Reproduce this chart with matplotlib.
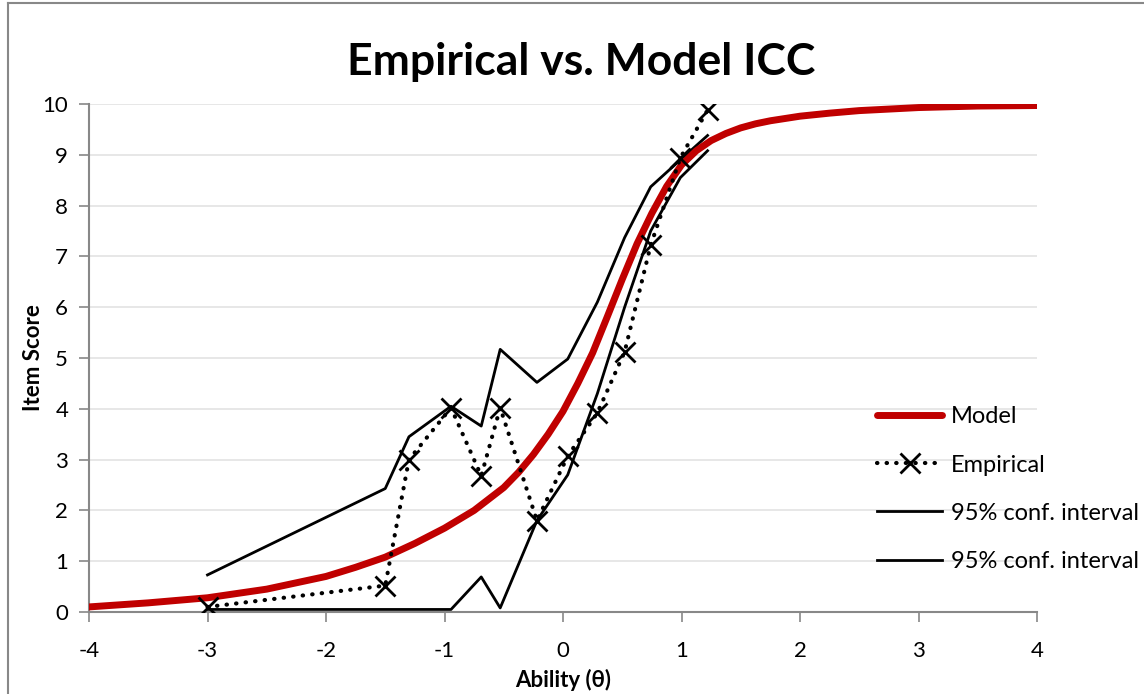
import matplotlib
matplotlib.use("Agg")
import matplotlib.pyplot as plt
from matplotlib.lines import Line2D

plt.rcParams['font.family'] = ['Lato', 'DejaVu Sans']
plt.rcParams['axes.unicode_minus'] = False

# model ICC (expected item score)
model_x = [-4.0, -3.5, -3.0, -2.5, -2.0, -1.75, -1.5, -1.25, -1.0, -0.75, -0.5, -0.375, -0.25, -0.125,
           0.0, 0.125, 0.25, 0.375, 0.5, 0.625, 0.75, 0.875, 1.0, 1.125, 1.25, 1.375, 1.5, 1.625,
           1.75, 2.0, 2.25, 2.5, 3.0, 3.5, 4.0]
model_y = [0.10, 0.18, 0.28, 0.45, 0.70, 0.88, 1.08, 1.35, 1.65, 2.00, 2.45, 2.75, 3.10, 3.50,
           3.95, 4.50, 5.10, 5.82, 6.55, 7.25, 7.85, 8.38, 8.80, 9.08, 9.28, 9.42, 9.53, 9.61,
           9.67, 9.76, 9.82, 9.87, 9.93, 9.96, 9.97]

# empirical points and 95% interval
emp_x = [-3.0, -1.5, -1.3, -0.945, -0.69, -0.53, -0.22, 0.04, 0.29, 0.52, 0.74, 0.99, 1.22]
emp_y = [0.10, 0.52, 3.00, 4.02, 2.68, 4.02, 1.80, 3.07, 3.92, 5.12, 7.22, 8.94, 9.88]
ci_upper = [0.73, 2.43, 3.45, 4.05, 3.66, 5.17, 4.52, 4.98, 6.10, 7.37, 8.37, 8.90, 9.38]
ci_lower = [0.05, 0.05, 0.05, 0.05, 0.69, 0.08, 1.80, 2.70, 4.30, 6.00, 7.50, 8.55, 9.08]

x_ticks = [-4, -3, -2, -1, 0, 1, 2, 3, 4]
y_ticks = list(range(0, 11))

fig = plt.figure(figsize=(11.44, 6.94), dpi=100)
ax = fig.add_axes([89 / 1144, 1 - 612 / 694, 948 / 1144, 508 / 694])

ax.plot(model_x, model_y, color='#C00000', lw=5, solid_capstyle='round', label='Model', zorder=3)
ax.plot(emp_x, emp_y, color='black', lw=3, linestyle=(0, (0.1, 2.2)), dash_capstyle='round',
        marker='x', markersize=14, markeredgewidth=2, label='Empirical', zorder=4)
ax.plot(emp_x, ci_upper, color='black', lw=2, label='95% conf. interval', zorder=2)
ax.plot(emp_x, ci_lower, color='black', lw=2, label='95% conf. interval', zorder=2)

ax.set_xlim(-4, 4)
ax.set_ylim(0, 10)
ax.set_xticks(x_ticks)
ax.set_yticks(y_ticks)
ax.tick_params(labelsize=16, colors='#888888', labelcolor='black', length=7, width=1.2, direction='out')
ax.tick_params(axis='x', pad=14)
ax.tick_params(axis='y', pad=8)
ax.grid(axis='y', color='#E3E3E3', lw=1.2)
ax.set_axisbelow(True)
for side in ['top', 'right']:
    ax.spines[side].set_visible(False)
for side in ['left', 'bottom']:
    ax.spines[side].set_color('#888888')
    ax.spines[side].set_linewidth(1.5)

ax.set_xlabel('Ability (θ)', fontsize=16, fontweight='bold', va='center')
ax.set_ylabel('Item Score', fontsize=16, fontweight='bold', va='center')
ax.xaxis.set_label_coords(0.5, -68 / 508)
ax.yaxis.set_label_coords(-56 / 948, 0.5)
fig.text(0.508, 1 - 62 / 694, 'Empirical vs. Model ICC', fontsize=32, fontweight='bold',
         ha='center', va='center')

ax.legend(loc='upper left', bbox_to_anchor=(868 / 1144, 1 - 397 / 694),
          bbox_transform=fig.transFigure, frameon=False, fontsize=17,
          handlelength=2.75, handletextpad=0.35, labelspacing=1.15, numpoints=1,
          borderaxespad=0)

# chart area border (only top and left edges are visible in the crop)
fig.add_artist(Line2D([7.5 / 1144, 7.5 / 1144], [0, 1 - 2.5 / 694], color='#888888', lw=1.5,
                      transform=fig.transFigure))
fig.add_artist(Line2D([7.5 / 1144, 1], [1 - 2.5 / 694, 1 - 2.5 / 694], color='#888888', lw=1.5,
                      transform=fig.transFigure))

fig.savefig('out.png', dpi=100)
